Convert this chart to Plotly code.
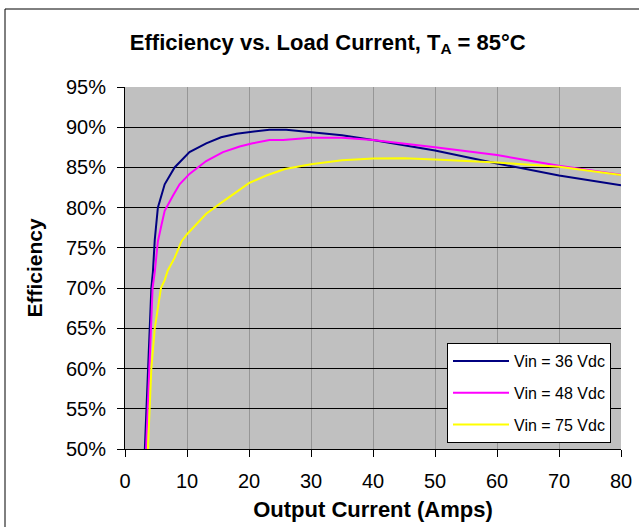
import plotly.graph_objects as go

# Output current (A) and efficiency (%)
x_36 = [3.2, 3.45, 3.7, 4.0, 4.25, 4.5, 4.8, 5.3, 5.9, 6.4, 8.0, 10.4, 13.1, 15.5, 18.0, 20.0,
        23.3, 26.0, 30.0, 35.0, 40.0, 50.0, 60.0, 70.0, 80.0]
y_36 = [50, 55, 60, 65, 70, 72, 76, 80, 81.7, 82.9, 85, 86.9, 88, 88.75, 89.2, 89.4,
        89.7, 89.7, 89.4, 89.0, 88.4, 87.1, 85.5, 84.0, 82.8]

x_48 = [3.4, 3.65, 3.9, 4.2, 4.45, 4.8, 5.3, 5.9, 6.4, 7.75, 8.8, 10.4, 13.1, 15.8, 18.5, 20.6,
        23.3, 25.5, 30.0, 35.0, 40.0, 50.0, 60.0, 70.0, 80.0]
y_48 = [50, 55, 60, 65, 70, 72, 75.8, 77.9, 79.6, 81.5, 82.9, 84.2, 85.8, 86.9, 87.6, 88.0,
        88.4, 88.4, 88.7, 88.7, 88.4, 87.5, 86.55, 85.2, 84.1]

x_75 = [3.7, 4.0, 4.25, 4.8, 5.8, 6.4, 6.9, 8.0, 9.1, 10.0, 11.0, 13.1, 15.5, 20.1, 22.8, 25.8,
        30.0, 35.0, 40.0, 45.0, 50.0, 60.0, 70.0, 80.0]
y_75 = [50, 55, 60, 65, 70, 71, 72.2, 73.75, 75.8, 76.7, 77.5, 79.25, 80.6, 83.1, 84.0, 84.8,
        85.4, 85.9, 86.1, 86.15, 86.0, 85.6, 85.1, 84.05]

series = [
    ("Vin = 36 Vdc", x_36, y_36, "#000080"),
    ("Vin = 48 Vdc", x_48, y_48, "#FF00FF"),
    ("Vin = 75 Vdc", x_75, y_75, "#FFFF00"),
]

x_ticks = [0, 10, 20, 30, 40, 50, 60, 70, 80]
y_ticks = [50, 55, 60, 65, 70, 75, 80, 85, 90, 95]

FONT = "Liberation Sans, Arial, sans-serif"

L, R, T, B = 125, 18, 87, 78
PW, PH = 639 - L - R, 527 - T - B

fig = go.Figure()
for i, (name, xs, ys, col) in enumerate(series):
    fig.add_trace(go.Scatter(x=xs, y=ys, mode="lines", name=name,
                             legendgroup=f"g{i}",
                             line=dict(color=col, width=2)))

fig.update_layout(
    width=639, height=527,
    margin=dict(l=L, r=R, t=T, b=B),
    paper_bgcolor="white",
    plot_bgcolor="#C0C0C0",
    font=dict(family=FONT, color="black"),
    title=dict(text="<b>Efficiency vs. Load Current, T<sub>A</sub> = 85°C</b>",
               x=0.513, xanchor="center", xref="container",
               y=1 - 42 / 527, yanchor="middle", yref="container",
               font=dict(size=22, family=FONT, color="black")),
    showlegend=True,
    legend=dict(x=(447 - L) / PW, y=(449 - 343) / PH, xanchor="left", yanchor="top",
                bgcolor="white", bordercolor="black", borderwidth=1,
                font=dict(size=16, family=FONT, color="black"),
                tracegroupgap=8, itemwidth=56),
    shapes=[dict(type="rect", xref="paper", yref="paper",
                 x0=(5 - L) / PW, x1=(660 - L) / PW,
                 y0=(449 - 560) / PH, y1=(449 - 9) / PH,
                 line=dict(color="black", width=1), layer="below")],
)

fig.update_xaxes(range=[0, 80], tickvals=x_ticks, ticktext=[str(v) for v in x_ticks],
                 showgrid=True, gridcolor="#969696", gridwidth=1,
                 showline=True, linecolor="black", linewidth=1,
                 ticks="outside", ticklen=7, tickcolor="black",
                 tickfont=dict(size=20, family=FONT, color="black"),
                 ticklabelstandoff=7,
                 zeroline=False, automargin=False,
                 title=dict(text="<b>Output Current (Amps)</b>",
                            font=dict(size=22, family=FONT, color="black"),
                            standoff=10))
fig.update_yaxes(range=[50, 95], tickvals=y_ticks, ticktext=[f"{v}%" for v in y_ticks],
                 showgrid=True, gridcolor="black", gridwidth=1,
                 showline=True, linecolor="black", linewidth=1,
                 ticks="outside", ticklen=7, tickcolor="black",
                 tickfont=dict(size=20, family=FONT, color="black"),
                 ticklabelstandoff=7,
                 zeroline=False, automargin=False,
                 title=dict(text="<b>Efficiency</b>",
                            font=dict(size=21, family=FONT, color="black"),
                            standoff=17))

fig.write_html("out.html", config={"displayModeBar": False},
               post_script="document.body.style.margin='0px';document.body.style.overflow='hidden';")
